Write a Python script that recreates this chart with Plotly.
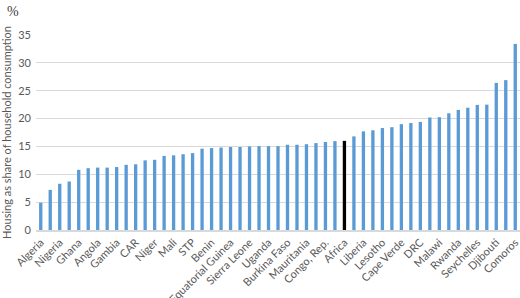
import plotly.graph_objects as go

# Tick labels (every other bar is labelled in the reference; unlabelled bars use "")
labels = ["Algeria", "", "Nigeria", "", "Ghana", "", "Angola", "", "Gambia", "",
          "CAR", "", "Niger", "", "Mali", "", "STP", "", "Benin", "",
          "Equatorial Guinea", "", "Sierra Leone", "", "Uganda", "", "Burkina Faso", "",
          "Mauritania", "", "Congo, Rep.", "", "Africa", "", "Liberia", "", "Lesotho", "",
          "Cape Verde", "", "DRC", "", "Malawi", "", "Rwanda", "", "Seychelles", "",
          "Djibouti", "", "Comoros"]

values = [4.9, 7.2, 8.3, 8.7, 10.8, 11.1, 11.2, 11.2, 11.3, 11.7,
          11.8, 12.5, 12.6, 13.3, 13.4, 13.6, 13.8, 14.6, 14.7, 14.8,
          14.9, 14.9, 15.0, 15.05, 15.05, 15.05, 15.3, 15.3, 15.4, 15.6,
          15.8, 15.95, 16.0, 16.8, 17.7, 17.9, 18.3, 18.45, 19.0, 19.2,
          19.4, 20.2, 20.25, 20.95, 21.55, 21.95, 22.45, 22.5, 26.4, 26.9,
          33.4]

highlight = "Africa"

positions = list(range(len(values)))
colors = ["#000000" if l == highlight else "#5B9BD5" for l in labels]
tickvals = [i for i, l in enumerate(labels) if l]
ticktext = [l for l in labels if l]

fig = go.Figure(go.Bar(x=positions, y=values, marker_color=colors,
                       marker_line_width=0, width=0.35))

font_family = "Lato, 'Open Sans', sans-serif"
fig.update_layout(
    width=520, height=298,
    margin=dict(l=36, r=0, t=35, b=68),
    paper_bgcolor="white", plot_bgcolor="white",
    showlegend=False,
    font=dict(family=font_family, size=11, color="#595959"),
    xaxis=dict(range=[-0.5, len(values) - 0.5], tickmode="array",
               tickvals=tickvals, ticktext=ticktext, tickangle=-45,
               tickfont=dict(size=11, color="#595959"), automargin=False,
               ticklabeloverflow="allow",
               showgrid=False, showline=True, linecolor="#d9d9d9", linewidth=1.5,
               ticks="", zeroline=False),
    yaxis=dict(range=[0, 35], dtick=5, showgrid=True, gridcolor="#d9d9d9",
               gridwidth=1, zeroline=False, ticks="", showline=False,
               automargin=False, ticklabelstandoff=4,
               tickfont=dict(size=11, color="#595959"),
               title=dict(text="Housing as share of household consumption",
                          font=dict(size=11, color="#595959"), standoff=4)),
    annotations=[dict(text="%", xref="paper", yref="paper", x=-0.048, y=1.0,
                      xanchor="center", yanchor="bottom", yshift=14, showarrow=False,
                      font=dict(family="'Liberation Serif', serif", size=14,
                                color="#404040"))],
)

fig.write_html("out.html", config={"displayModeBar": False},
               post_script="document.body.style.margin='0';document.body.style.overflow='hidden';")
